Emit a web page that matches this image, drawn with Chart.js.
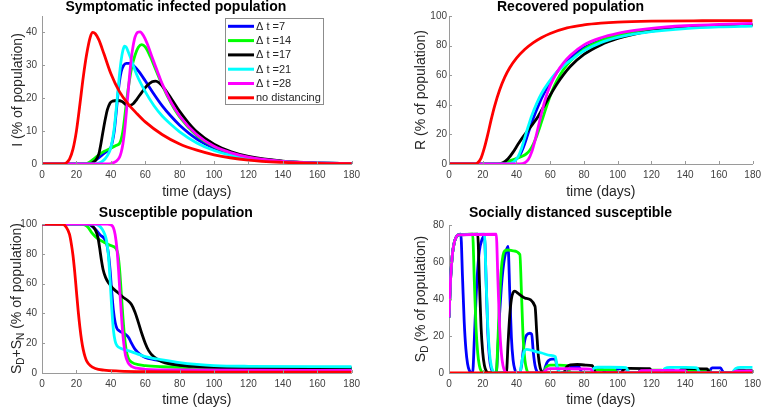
<!DOCTYPE html>
<html>
<head>
<meta charset="utf-8">
<script src="https://cdn.jsdelivr.net/npm/chart.js@4.4.1/dist/chart.umd.min.js"></script>
<style>
  body { margin: 0; background: #fff; width: 766px; height: 407px; position: relative; overflow: hidden; }
  canvas { position: absolute; }
</style>
</head>
<body>
<canvas id="pI" width="383" height="200" style="left:0;top:0"></canvas>
<canvas id="pR" width="383" height="200" style="left:383px;top:0"></canvas>
<canvas id="pS" width="383" height="207" style="left:0;top:200px"></canvas>
<canvas id="pD" width="383" height="207" style="left:383px;top:200px"></canvas>
<script>
// Legend labels, shared by every panel
const seriesLabels = ["\u0394 t =7", "\u0394 t =14", "\u0394 t =17", "\u0394 t =21", "\u0394 t =28", "no distancing"];
const seriesColors = ["#0000ff", "#00ff00", "#000000", "#00ffff", "#ff00ff", "#ff0000"];

// Tick labels
const xTicks = [0, 20, 40, 60, 80, 100, 120, 140, 160, 180];
const iTicks = [0, 10, 20, 30, 40];
const pctTicks = [0, 20, 40, 60, 80, 100];
const sdTicks = [0, 20, 40, 60, 80];

// Symptomatic infected population I (% of population), [day, value]
const iDt7 = [[0,0],[26,0],[29,0.5],[32,1.5],[35,2.8],[38,4],[40,5],[41,7],[42,10],[43,15],[44,20.5],[45,25],[46,28],[47.5,30],[49,30.6],[51,30.6],[53,30],[56,28.3],[60,25.3],[65,21.3],[70,17.6],[75,14.5],[80,11.8],[90,7.6],[100,4.9],[110,3.1],[120,2],[140,0.8],[160,0.3],[180,0.1]];
const iDt14 = [[0,0],[24,0],[27,0.4],[30,1.5],[33,2.8],[36,3.8],[40,4.8],[43,5.6],[45,6.2],[46,7.5],[47,10],[48,14],[49,18.5],[50,22.5],[51,26],[52,29],[54,33],[56,35.5],[58,36.3],[60,35.6],[63,32.6],[66,28.8],[70,23.8],[75,18.5],[80,14.3],[90,8.6],[100,5.3],[110,3.3],[120,2.1],[140,0.8],[160,0.3],[180,0.1]];
const iDt17 = [[0,0],[27,0],[29,0.3],[31,1],[33,3],[34,5.5],[35,8.5],[36,11.5],[37,14.2],[38,16.5],[39.5,18.5],[41,19.1],[44,19.3],[46.5,19],[49,18],[51,17.8],[53,18.3],[55,19.6],[58,21.8],[61,23.8],[64,25],[66,25.2],[68,24.7],[71,23],[75,20],[80,16],[85,12.6],[90,9.8],[100,6],[110,3.7],[120,2.3],[140,0.9],[160,0.35],[180,0.15]];
const iDt21 = [[0,0],[30,0],[33,0.3],[35,0.8],[37,1.8],[39,3.5],[40,5],[41,7.5],[42,11],[43,16],[44,21.5],[45,27],[46,31.5],[47,34.5],[48,35.8],[49,35.5],[50,34.3],[52,31.5],[55,27.2],[60,22],[65,17.8],[70,14.5],[75,12],[80,9.8],[90,6.4],[100,4.1],[110,2.6],[120,1.7],[140,0.7],[160,0.3],[180,0.1]];
const iDt28 = [[0,0],[38,0],[41,0.3],[43,0.8],[45,2],[46,3.5],[47,6],[48,10],[49,15.5],[50,21.5],[51,27.5],[52,32.5],[53,36],[54,38.5],[55.5,40],[57,40.2],[59,39],[61,36.8],[64,32.5],[67,28.3],[70,24.2],[75,18.8],[80,14.6],[90,8.9],[100,5.4],[110,3.4],[120,2.1],[140,0.8],[160,0.3],[180,0.1]];
const iNone = [[0,0],[12,0],[14,0.3],[16,1.5],[18,4.5],[20,10],[22,18],[24,26.5],[26,33.5],[28,38.5],[29.5,40],[31,39.6],[33,37.8],[36,33.5],[40,27.5],[45,22],[50,18.3],[55,15.4],[60,12.8],[70,8.9],[80,6.1],[90,4.2],[100,2.8],[120,1.2],[140,0.5],[160,0.2],[180,0.1]];

// Recovered population R (% of population)
const rDt7 = [[0,0],[30,0],[34,0.8],[38,2.3],[40,3.5],[42,6],[44,11],[46,17.5],[48,24.5],[50,31],[53,39.5],[56,47],[60,55],[65,63.5],[70,70],[80,78.5],[90,83.5],[100,86.8],[110,89],[120,90.5],[140,92.4],[160,93.4],[180,94]];
const rDt14 = [[0,0],[27,0],[31,0.5],[35,1.8],[40,3.7],[44,5.5],[46,7],[48,9.5],[50,13.5],[52,19],[54,25.5],[56,32.5],[58,39.5],[61,49],[64,56.5],[68,64],[72,69.5],[80,77.5],[90,83.3],[100,86.8],[110,89.2],[120,90.8],[140,92.8],[160,93.8],[180,94.3]];
const rDt17 = [[0,0],[29,0],[32,0.8],[35,3.5],[38,8],[41,13.5],[44,18.5],[47,23],[50,27.5],[53,32.5],[56,38.5],[60,46.5],[64,54],[68,60.5],[72,66],[80,74],[90,80.5],[100,84.8],[110,87.8],[120,89.8],[140,92.1],[160,93.2],[180,93.8]];
const rDt21 = [[0,0],[34,0],[37,0.6],[39,2],[41,5],[43,10.5],[45,18],[47,25.5],[49,32.5],[52,41],[55,48],[59,55],[63,61],[68,66.5],[72,70],[80,76.5],[90,82],[100,85.5],[110,87.9],[120,89.5],[140,91.5],[160,92.6],[180,93.2]];
const rDt28 = [[0,0],[42,0],[45,0.8],[47,3],[49,8],[51,16],[53,25.5],[55,35],[57,43.5],[60,53],[64,62],[68,68.5],[72,73.5],[80,80.5],[90,85.3],[100,88.3],[110,90.3],[120,91.7],[140,93.4],[160,94.4],[180,95]];
const rNone = [[0,0],[15,0],[17,0.8],[19,4],[21,11],[23,20],[25,30],[27,39],[30,50],[33,58.5],[36,65],[40,71.5],[45,77.5],[50,82],[55,85.5],[60,88.2],[70,92],[80,94],[90,95.2],[100,95.9],[120,96.5],[150,96.8],[180,96.9]];

// Susceptible population SD+SN (% of population)
const sDt7 = [[0,100],[25,100],[28,99.3],[31,96.5],[34,92.5],[36,90.5],[37.5,87],[38.5,81],[39.5,70],[40.5,55],[41.5,42],[42.5,34],[43.5,30],[45,28.2],[47,27],[49,25.5],[50.5,23.5],[52,20],[54,16],[57,12.5],[60,10.5],[65,9],[70,8],[80,6.3],[90,5],[100,4.3],[120,3.8],[180,3.5]];
const sDt14 = [[0,100],[22,100],[25,99.3],[27,97.5],[29,94],[32,90.5],[36,87.8],[40,85.5],[43,83.5],[44,80.5],[45,71],[46,55],[47,38],[48,24],[49,15],[50,10.5],[51,8.3],[54,6.2],[60,5],[70,4.2],[90,3.5],[120,3.2],[180,3]];
const sDt17 = [[0,100],[27,100],[29,99],[31,96],[32.5,91],[33.5,84],[34.5,76],[35.5,69.5],[37,64],[39,60],[41,57],[44,54],[47,51],[50,48.5],[52,46],[54,41],[56,34],[58,26.5],[60,20],[62,15],[65,10.8],[70,7.5],[80,5.2],[90,4.3],[100,3.8],[120,3.4],[180,3.2]];
const sDt21 = [[0,100],[30,100],[33,99],[35,96.5],[36.5,93],[37.5,89],[38.5,80],[39.5,64],[40.5,44],[41.5,29],[42.5,21.5],[43.5,18.5],[46,16.5],[50,15],[55,13],[60,11],[70,8.8],[80,7],[90,5.8],[100,5],[120,4.5],[180,4.2]];
const sDt28 = [[0,100],[38,100],[40,99.5],[41.5,97.5],[42.5,93],[43.5,84],[44.5,69],[45.5,50],[46.5,33],[47.5,20],[48.5,12],[50,7],[52,4.5],[55,3.2],[60,2.5],[80,2],[180,1.8]];
const sNone = [[0,100],[12,99.8],[14,98],[16,93],[17,87],[18,79],[19,68],[20,55],[21,42],[22,31],[23,22],[24,15.5],[25,11],[26,8],[28,5],[31,3],[36,1.9],[45,1.3],[60,0.9],[100,0.6],[180,0.5]];

// Socially distanced susceptible SD (% of population)
const dDt7 = [[0,30],[1,52],[2,64],[3,70],[4,73],[5.5,74.7],[7,75],[8,52],[9,28],[10,13],[11,5],[12,1.5],[13,0.3],[14,0],[15,18],[16,40],[17,56],[18,66],[19.5,72],[21,74],[22,50],[23,22],[24,8],[25,2.5],[26.5,0.3],[28,0],[29,14],[30,32],[31,46],[32,56],[33,62.5],[34,66.5],[35,68.5],[36,44],[37,19],[38,7],[39,2],[40.5,0.2],[42,0],[43,4],[44,12],[45,18],[46,20.5],[48,21.5],[49,21],[50,11],[51,4],[52,1],[53.5,0],[56,0],[57,3],[58,5.5],[59,6.8],[61,7.5],[63,7.5],[64,3.5],[65,1],[66,0],[70,0],[71,1.8],[72,3],[74,3.5],[77,3.5],[78,1.5],[79,0.3],[84,0],[85,1],[86,1.8],[91,2],[92,0.8],[93,0],[98,0],[99,1.5],[100,2.3],[105,2.3],[106,1],[107,0],[112,0],[113,1],[114,1.6],[119,1.6],[120,0.6],[121,0],[126,0],[127,1],[128,1.6],[133,1.6],[134,0.6],[135,0],[140,0],[141,1],[142,1.6],[147,1.6],[148,0.6],[149,0],[154,0],[155,1.8],[156,2.8],[161,2.8],[162,1.2],[163,0],[168,0],[169,1],[170,1.6],[175,1.6],[176,0.6],[177,0],[180,0]];
const dDt14 = [[0,30],[1,52],[2,64],[3,70],[4,73],[5.5,74.7],[14,75],[15,50],[16,25],[17,11],[18,4],[19,1.2],[20.5,0],[28,0],[29,18],[30,40],[31,56],[32,63.5],[33,66],[35,66.5],[38,66],[42,64],[43,42],[44,18],[45,7],[46,2],[47.5,0],[56,0],[57,2],[58,3.5],[60,4.3],[65,4.3],[70,4],[71,1.5],[72,0.3],[73,0],[84,0],[85,1],[86,1.8],[98,1.8],[99,0.7],[100,0],[112,0],[113,0.8],[114,1.5],[126,1.5],[127,0.5],[128,0],[140,0],[141,0.8],[142,1.3],[154,1.3],[155,0.4],[156,0],[168,0],[169,0.8],[170,1.2],[180,1.2]];
const dDt17 = [[0,30],[1,52],[2,64],[3,70],[4,73],[5.5,74.7],[17,75],[18,50],[19,25],[20,11],[21,4],[22,1.2],[23.5,0],[34,0],[35,16],[36,31],[37,40],[38,43.5],[39,44.3],[41,43],[45,40.5],[51,36],[52,22],[53,9],[54,3],[55,0.8],[56.5,0],[68,0],[69,2],[70,3.5],[72,4.4],[76,4.6],[81,4.3],[85,4],[86,1.6],[87,0.3],[88,0],[102,0],[103,1.3],[104,2.2],[107,2.5],[119,2.3],[120,1],[121,0],[136,0],[137,1.3],[138,2.2],[142,2.4],[153,2.2],[154,0.9],[155,0],[170,0],[171,0.8],[172,1.2],[180,1.3]];
const dDt21 = [[0,30],[1,52],[2,64],[3,70],[4,73],[5.5,74.7],[21,75],[22,50],[23,25],[24,11],[25,4],[26,1.2],[27.5,0],[42,0],[43,5],[44,10],[45,12.3],[46,12.8],[50,12],[55,10.8],[60,9.5],[63,8.8],[64,4],[65,1.3],[66,0.3],[67,0],[84,0],[85,1.5],[86,2.6],[88,3.1],[95,3.1],[105,2.9],[106,1.2],[107,0],[126,0],[127,1.5],[128,2.5],[131,3],[140,3],[147,2.8],[148,1.1],[149,0],[168,0],[169,1.5],[170,2.5],[173,3],[180,3]];
const dDt28 = [[0,30],[1,52],[2,64],[3,70],[4,73],[5.5,74.7],[28,75],[29,50],[30,25],[31,11],[32,4],[33,1.2],[34.5,0],[56,0],[57,1.2],[58,2],[60,2.4],[70,2.3],[84,2.1],[85,0.8],[86,0],[112,0],[113,0.8],[114,1.3],[125,1.4],[140,1.3],[141,0.5],[142,0],[168,0],[169,0.6],[170,1],[180,1.1]];
const dNone = [[0,0],[180,0]];

const FONT = "'Liberation Sans', Arial, Helvetica, sans-serif";
const axisColor = "#9a9a9a";
const textColor = "#262626";

// inward tick marks, rotated y label (with subscripts) and the boxed legend
const extras = {
  id: "extras",
  afterDraw(chart, args, o) {
    const ctx = chart.ctx;
    const a = chart.chartArea;
    const xs = chart.scales.x;
    const ys = chart.scales.y;
    ctx.save();
    ctx.strokeStyle = axisColor;
    ctx.lineWidth = 1;
    ctx.beginPath();
    xs.ticks.forEach((t) => {
      const px = Math.round(xs.getPixelForValue(t.value)) + 0.5;
      ctx.moveTo(px, a.bottom);
      ctx.lineTo(px, a.bottom - 3);
    });
    ys.ticks.forEach((t) => {
      const py = Math.round(ys.getPixelForValue(t.value)) + 0.5;
      ctx.moveTo(a.left, py);
      ctx.lineTo(a.left + 3, py);
    });
    ctx.stroke();

    // y axis label
    ctx.translate(o.labelX, (a.top + a.bottom) / 2);
    ctx.rotate(-Math.PI / 2);
    ctx.fillStyle = textColor;
    ctx.textBaseline = "alphabetic";
    const big = "14px " + FONT;
    const small = "10px " + FONT;
    let total = 0;
    o.ylabel.forEach((p) => {
      ctx.font = p.sub ? small : big;
      total += ctx.measureText(p.t).width;
    });
    let x = -total / 2;
    o.ylabel.forEach((p) => {
      ctx.font = p.sub ? small : big;
      ctx.fillText(p.t, x, p.sub ? 3 : 0);
      x += ctx.measureText(p.t).width;
    });
    ctx.restore();

    if (o.legend) {
      const L = o.legend;
      ctx.save();
      ctx.fillStyle = "#fff";
      ctx.fillRect(L.x, L.y, L.w, L.h);
      ctx.strokeStyle = "#8c8c8c";
      ctx.lineWidth = 1;
      ctx.strokeRect(L.x + 0.5, L.y + 0.5, L.w, L.h);
      ctx.font = "11px " + FONT;
      ctx.textBaseline = "middle";
      chart.data.datasets.forEach((ds, k) => {
        const yy = L.y + 8.3 + k * 14.3;
        ctx.strokeStyle = ds.borderColor;
        ctx.lineWidth = 3;
        ctx.beginPath();
        ctx.moveTo(L.x + 3, yy);
        ctx.lineTo(L.x + 29, yy);
        ctx.stroke();
        ctx.fillStyle = textColor;
        ctx.fillText(ds.label, L.x + 31, yy + 0.5);
      });
      ctx.restore();
    }
  },
};

function panel(id, title, series, yMax, yTicks, o) {
  new Chart(document.getElementById(id), {
    type: "line",
    data: {
      datasets: series.map((d, k) => ({
        label: seriesLabels[k],
        data: d,
        borderColor: seriesColors[k],
        backgroundColor: seriesColors[k],
        borderWidth: 2.8,
        pointRadius: 0,
        fill: false,
        cubicInterpolationMode: "monotone",
        order: 6 - k,
      })),
    },
    options: {
      responsive: false,
      devicePixelRatio: 1,
      animation: false,
      events: [],
      layout: { padding: { left: 0, right: o.right, top: 0, bottom: 0 } },
      plugins: {
        legend: { display: false },
        tooltip: { enabled: false },
        title: {
          display: true,
          text: title,
          color: "#000",
          font: { family: FONT, size: 14, weight: "bold", lineHeight: 1 },
          padding: { top: o.titleTop, bottom: o.titleBottom },
        },
        extras: { labelX: o.labelX, ylabel: o.ylabel, legend: o.legend },
      },
      scales: {
        x: {
          type: "linear",
          min: 0,
          max: 180,
          afterBuildTicks: (s) => { s.ticks = xTicks.map((v) => ({ value: v })); },
          afterFit: (s) => { s.height = o.xh; },
          grid: { display: false, drawTicks: false },
          border: { display: true, color: axisColor, width: 1 },
          ticks: { font: { family: FONT, size: 10 }, color: "#404040", padding: 5, maxRotation: 0, autoSkip: false },
          title: {
            display: true,
            text: "time (days)",
            color: textColor,
            font: { family: FONT, size: 14 },
            padding: { top: 0, bottom: o.xtb },
          },
        },
        y: {
          type: "linear",
          min: 0,
          max: yMax,
          afterBuildTicks: (s) => { s.ticks = yTicks.map((v) => ({ value: v })); },
          afterFit: (s) => { s.width = o.yw; },
          grid: { display: false, drawTicks: false },
          border: { display: true, color: axisColor, width: 1 },
          ticks: { font: { family: FONT, size: 10 }, color: "#404040", padding: o.ytp },
        },
      },
    },
    plugins: [extras],
  });
}

panel("pI", "Symptomatic infected population", [iDt7, iDt14, iDt17, iDt21, iDt28, iNone], 45, iTicks, {
  right: 31.3, titleTop: 0, titleBottom: 2, xh: 36, xtb: -1, yw: 42, ytp: 5, labelX: 22,
  ylabel: [{ t: "I (% of population)" }],
  legend: { x: 225, y: 18, w: 98, h: 86 },
});
panel("pR", "Recovered population", [rDt7, rDt14, rDt17, rDt21, rDt28, rNone], 100, pctTicks, {
  right: 8, titleTop: 0, titleBottom: 2, xh: 36, xtb: -1, yw: 66, ytp: 2, labelX: 42,
  ylabel: [{ t: "R (% of population)" }],
});
panel("pS", "Susceptible population", [sDt7, sDt14, sDt17, sDt21, sDt28, sNone], 100, pctTicks, {
  right: 31.3, titleTop: 6.5, titleBottom: 3.5, xh: 34, xtb: -2, yw: 42, ytp: 5, labelX: 21,
  ylabel: [{ t: "S" }, { t: "D", sub: true }, { t: "+S" }, { t: "N", sub: true }, { t: " (% of population)" }],
});
panel("pD", "Socially distanced susceptible", [dDt7, dDt14, dDt17, dDt21, dDt28, dNone], 80, sdTicks, {
  right: 8, titleTop: 6.5, titleBottom: 4.5, xh: 34, xtb: -2, yw: 66, ytp: 5, labelX: 42,
  ylabel: [{ t: "S" }, { t: "D", sub: true }, { t: " (% of population)" }],
});
</script>
</body>
</html>
